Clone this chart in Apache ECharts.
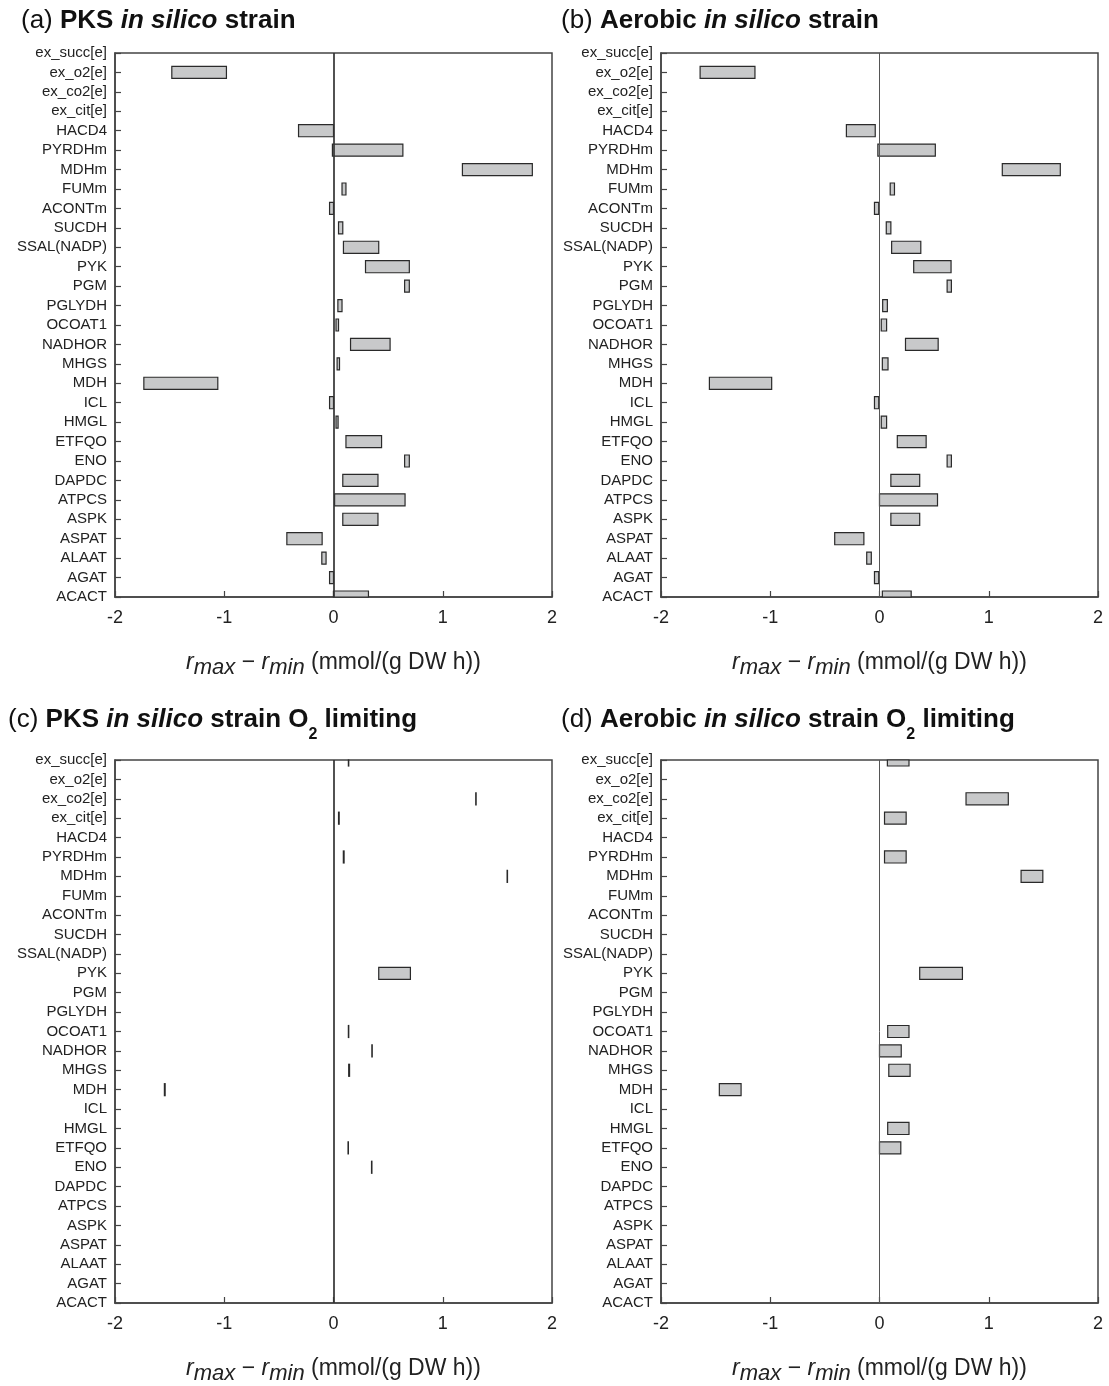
<!DOCTYPE html>
<html>
<head>
<meta charset="utf-8">
<script src="https://cdn.jsdelivr.net/npm/echarts@6/dist/echarts.min.js"></script>
<style>
  html, body { margin: 0; padding: 0; background: #ffffff; }
  #chart { width: 1109px; height: 1386px; }
</style>
</head>
<body>
<div id="chart"></div>
<script>
// Reactions, listed top to bottom
const reactions = ['ex_succ[e]', 'ex_o2[e]', 'ex_co2[e]', 'ex_cit[e]', 'HACD4', 'PYRDHm', 'MDHm', 'FUMm',
  'ACONTm', 'SUCDH', 'SSAL(NADP)', 'PYK', 'PGM', 'PGLYDH', 'OCOAT1', 'NADHOR', 'MHGS', 'MDH', 'ICL',
  'HMGL', 'ETFQO', 'ENO', 'DAPDC', 'ATPCS', 'ASPK', 'ASPAT', 'ALAAT', 'AGAT', 'ACACT'];

// Flux variability ranges (mmol/(g DW h)), one entry per reaction; null = no range drawn
// (a) PKS in silico strain
const pksMin = [null, -1.48, null, null, -0.32, -0.01, 1.18, 0.078, -0.036, 0.046, 0.091, 0.293, 0.651, 0.040,
  0.023, 0.156, 0.033, -1.736, -0.036, 0.023, 0.114, 0.651, 0.085, 0.010, 0.085, -0.427, -0.107, -0.036, 0.0];
const pksMax = [null, -0.98, null, null, 0.0, 0.635, 1.82, 0.114, 0.0, 0.085, 0.414, 0.694, 0.694, 0.078,
  0.046, 0.518, 0.055, -1.059, 0.0, 0.042, 0.440, 0.694, 0.407, 0.655, 0.407, -0.104, -0.068, 0.0, 0.32];

// (b) Aerobic in silico strain
const aerMin = [null, -1.642, null, null, -0.303, -0.015, 1.124, 0.098, -0.046, 0.062, 0.111, 0.313, 0.619, 0.029,
  0.016, 0.238, 0.026, -1.557, -0.046, 0.016, 0.163, 0.619, 0.104, 0.0, 0.104, -0.410, -0.117, -0.046, 0.026];
const aerMax = [null, -1.14, null, null, -0.039, 0.511, 1.655, 0.137, -0.007, 0.104, 0.378, 0.655, 0.658, 0.072,
  0.065, 0.537, 0.078, -0.987, -0.007, 0.065, 0.427, 0.658, 0.368, 0.531, 0.368, -0.143, -0.075, -0.007, 0.29];

// (c) PKS in silico strain, O2 limiting
const pksO2Min = [0.136, null, 1.302, 0.046, null, 0.090, 1.589, null, null, null, null, 0.414, null, null,
  0.136, 0.351, 0.139, -1.548, null, null, 0.133, 0.348, null, null, null, null, null, null, null];
const pksO2Max = [0.138, null, 1.304, 0.052, null, 0.097, 1.591, null, null, null, null, 0.704, null, null,
  0.138, 0.353, 0.147, -1.541, null, null, 0.135, 0.350, null, null, null, null, null, null, null];

// (d) Aerobic in silico strain, O2 limiting
const aerO2Min = [0.072, null, 0.792, 0.046, null, 0.046, 1.296, null, null, null, null, 0.368, null, null,
  0.075, 0.0, 0.085, -1.466, null, 0.075, 0.0, null, null, null, null, null, null, null, null];
const aerO2Max = [0.27, null, 1.179, 0.244, null, 0.244, 1.495, null, null, null, null, 0.759, null, null,
  0.27, 0.199, 0.28, -1.267, null, 0.27, 0.195, null, null, null, null, null, null, null, null];

// x-axis tick values
const xTicks = [-2, -1, 0, 1, 2];

const FONT = '"Liberation Sans", Arial, Helvetica, sans-serif';
const TEXT = '#222222';
const FRAME = '#444444';

const panels = [
  { min: pksMin, max: pksMax, left: 115, top: 53, zero: { color: '#333', width: 1.7 } },
  { min: aerMin, max: aerMax, left: 661, top: 53, zero: { color: '#555', width: 1 } },
  { min: pksO2Min, max: pksO2Max, left: 115, top: 760, zero: { color: '#333', width: 1.7 } },
  { min: aerO2Min, max: aerO2Max, left: 661, top: 760, zero: { color: '#555', width: 1 } }
];

function rangeData(lo, hi) {
  const out = [];
  reactions.forEach((name, i) => {
    if (lo[i] !== null && hi[i] !== null) out.push([name, lo[i], hi[i]]);
  });
  return out;
}

// horizontal floating bar spanning [r_min, r_max], clipped to the plot frame
function renderRange(params, api) {
  const cat = api.value(0);
  const p0 = api.coord([api.value(1), cat]);
  const p1 = api.coord([api.value(2), cat]);
  const h = api.size([0, 1])[1] * 0.62;
  const cs = params.coordSys;
  const rect = echarts.graphic.clipRectByRect(
    { x: p0[0], y: p0[1] - h / 2, width: Math.max(p1[0] - p0[0], 0.4), height: h },
    { x: cs.x, y: cs.y, width: cs.width, height: cs.height }
  );
  if (!rect) return null;
  return {
    type: 'rect',
    shape: rect,
    style: { fill: '#c8c9ca', stroke: '#2a2a2a', lineWidth: 1.2 }
  };
}

// axis title: r_max − r_min with lowered subscripts
const axisNameRich = {
  ri: { fontFamily: FONT, fontStyle: 'italic', fontSize: 23, color: TEXT, lineHeight: 24, verticalAlign: 'top' },
  sub: { fontFamily: FONT, fontStyle: 'italic', fontSize: 22, color: TEXT, lineHeight: 28, verticalAlign: 'bottom' },
  op: { fontFamily: FONT, fontSize: 23, color: TEXT, lineHeight: 24, verticalAlign: 'top' },
  tx: { fontFamily: FONT, fontSize: 23, color: TEXT, lineHeight: 24, verticalAlign: 'top' }
};

const grids = [], xAxes = [], yAxes = [], series = [];
panels.forEach((p, k) => {
  grids.push({
    left: p.left, top: p.top, width: 437, height: 544,
    show: true, borderColor: FRAME, borderWidth: 1.5, backgroundColor: 'transparent'
  });
  xAxes.push({
    gridIndex: k, type: 'value', min: -2, max: 2, interval: 1,
    axisLine: { show: true, onZero: false, lineStyle: { color: FRAME, width: 1.5 } },
    axisTick: { show: true, inside: true, length: 6, lineStyle: { color: FRAME, width: 1.2 } },
    splitLine: { show: false },
    axisLabel: {
      fontFamily: FONT, fontSize: 18, color: TEXT, margin: 12,
      formatter: v => (xTicks.indexOf(v) >= 0 ? String(v) : '')
    },
    name: '{ri|r}{sub|max}{op| \u2212 }{ri|r}{sub|min}{tx| (mmol/(g DW h))}',
    nameLocation: 'middle', nameGap: 54,
    nameTextStyle: { rich: axisNameRich }
  });
  yAxes.push({
    gridIndex: k, type: 'category', data: reactions, inverse: true, boundaryGap: false,
    axisLine: { show: true, onZero: false, lineStyle: { color: FRAME, width: 1.5 } },
    axisTick: { show: true, inside: true, length: 6, interval: 0, lineStyle: { color: FRAME, width: 1.2 } },
    splitLine: { show: false },
    axisLabel: { interval: 0, fontFamily: FONT, fontSize: 15, color: TEXT, margin: 8 }
  });
  series.push({
    type: 'custom', xAxisIndex: k, yAxisIndex: k,
    renderItem: renderRange,
    encode: { x: [1, 2], y: 0 },
    data: rangeData(p.min, p.max),
    silent: true,
    markLine: {
      silent: true, symbol: 'none', animation: false,
      label: { show: false },
      lineStyle: { color: p.zero.color, width: p.zero.width, type: 'solid' },
      data: [{ xAxis: 0 }]
    }
  });
});

// panel headings; the O2 subscript sits at the bottom of a taller line box
const titleRich = {
  n: { fontFamily: FONT, fontSize: 26, fontWeight: 'normal', color: '#111', lineHeight: 26, verticalAlign: 'top' },
  b: { fontFamily: FONT, fontSize: 26, fontWeight: 'bold', color: '#111', lineHeight: 26, verticalAlign: 'top' },
  bi: { fontFamily: FONT, fontSize: 26, fontWeight: 'bold', fontStyle: 'italic', color: '#111', lineHeight: 26, verticalAlign: 'top' },
  s: { fontFamily: FONT, fontSize: 16, fontWeight: 'bold', color: '#111', lineHeight: 36, verticalAlign: 'bottom' }
};

const titles = [
  { text: '{n|(a) }{b|PKS }{bi|in silico}{b| strain}', left: 21, top: 8 },
  { text: '{n|(b) }{b|Aerobic }{bi|in silico}{b| strain}', left: 561, top: 8 },
  { text: '{n|(c) }{b|PKS }{bi|in silico}{b| strain O}{s|2}{b| limiting}', left: 8, top: 707 },
  { text: '{n|(d) }{b|Aerobic }{bi|in silico}{b| strain O}{s|2}{b| limiting}', left: 561, top: 707 }
].map(t => ({ text: t.text, left: t.left, top: t.top, padding: 0, textStyle: { rich: titleRich } }));

const chart = echarts.init(document.getElementById('chart'), null, { renderer: 'canvas' });
chart.setOption({
  backgroundColor: '#ffffff',
  animation: false,
  title: titles,
  grid: grids,
  xAxis: xAxes,
  yAxis: yAxes,
  series: series
});
</script>
</body>
</html>
